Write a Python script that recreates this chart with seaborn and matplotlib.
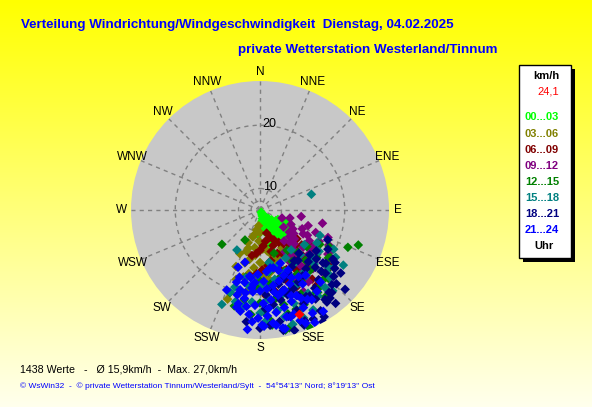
import numpy as np
import pandas as pd
import matplotlib
matplotlib.use("Agg")
import matplotlib.pyplot as plt
import matplotlib.patches as mpatches
import seaborn as sns

# Werte aus dem Bild geschaetzt: Richtung (Grad) und Geschwindigkeit (km/h) je Zeitblock
dir_00 = [150, 155, 160, 145, 140, 135, 130, 125, 120, 118, 165, 170, 175, 180, 185, 150, 145, 140,
          135, 128, 160, 155, 150, 142, 138, 132, 148, 152, 158, 162, 168, 172, 144, 136, 126,
          125, 130, 135, 140, 145, 150, 155, 160, 165, 120, 128, 138, 148, 158, 170,
          116, 122, 118, 124, 112]
spd_00 = [7.0, 7.3, 7.6, 7.8, 8.1, 8.5, 9.0, 9.6, 10.2, 11.0, 8.0, 8.4, 8.8, 9.4, 10.5, 9.5, 10.2, 10.8,
          11.4, 12.0, 9.8, 10.6, 11.3, 11.8, 12.3, 10.0, 8.8, 7.5, 10.9, 11.6, 10.1, 11.9, 9.2, 9.9, 11.3,
          11.5, 11.9, 12.2, 12.4, 12.0, 11.7, 11.9, 12.3, 12.1, 11.8, 10.7, 9.5, 8.3, 9.0, 12.6,
          12.0, 12.5, 9.8, 11.0, 11.3]

dir_03 = [185, 190, 195, 200, 198, 188, 182, 176, 170, 165, 192, 196, 203, 186, 180, 175, 168, 162,
          190, 194, 199, 184, 178, 172, 166, 160, 188, 194, 200, 192, 180, 170, 205, 197, 186,
          150, 155, 160, 165, 170, 175, 180, 185]
spd_03 = [9.1, 9.8, 11.0, 12.1, 13.5, 12.6, 11.5, 12.8, 13.2, 14.0, 14.6, 15.3, 16.3, 15.8, 14.9, 15.6, 16.2, 15.0,
          16.8, 17.5, 18.2, 17.1, 16.6, 17.8, 18.4, 17.2, 19.3, 20.1, 21.6, 10.5, 10.2, 11.7, 14.2, 12.9, 13.8,
          13.5, 14.2, 15.0, 15.8, 16.5, 17.3, 18.0, 18.8]

dir_06 = [164, 160, 155, 150, 145, 140, 135, 130, 170, 175, 180, 185, 190, 165, 158, 152, 147, 142, 137, 132,
          168, 172, 178, 183, 188, 162, 156, 149, 144, 139, 166, 159, 153, 148, 143, 170, 176, 129, 160, 150,
          125, 130, 135, 140, 145, 150, 155, 160, 128, 138, 148, 158, 133, 143, 153]
spd_06 = [10.4, 11.2, 11.8, 12.5, 13.1, 13.8, 14.5, 15.2, 11.6, 12.3, 13.0, 13.5, 13.9, 13.4, 14.0, 14.7, 15.3, 15.9, 16.6, 17.4,
          14.8, 15.5, 16.1, 16.7, 17.2, 16.3, 16.9, 17.6, 18.2, 18.9, 18.0, 18.7, 19.3, 19.9, 20.3, 19.5, 20.2, 20.9, 12.6, 16.0,
          16.5, 17.2, 17.9, 18.5, 19.0, 19.6, 20.1, 20.6, 14.0, 15.0, 16.0, 17.0, 21.0, 21.5, 22.0]

dir_09 = [99, 102, 112, 110, 105, 115, 120, 125, 130, 135, 140, 145, 150, 108, 118, 122, 128, 133, 138, 143,
          148, 153, 114, 119, 124, 129, 134, 139, 144, 149, 117, 123, 127, 132, 137, 142, 112, 126, 131, 136,
          120, 125, 130, 135, 140, 118, 128, 138, 146, 152]
spd_09 = [13.2, 16.7, 18.2, 10.3, 11.5, 12.0, 12.6, 13.1, 13.7, 14.2, 14.8, 15.4, 16.0, 14.6, 15.1, 15.8, 16.4, 17.0, 17.6, 18.1,
          18.6, 19.0, 13.9, 14.4, 16.9, 17.5, 18.4, 16.2, 17.3, 14.3, 18.8, 19.4, 12.4, 12.9, 13.5, 12.8, 16.1, 11.2, 15.6, 17.9,
          19.5, 20.0, 20.4, 20.8, 21.1, 17.2, 18.0, 19.1, 20.3, 21.2]

dir_12 = [228, 109.6, 113, 206.6, 168, 157, 120, 130, 140, 150, 160, 170, 180, 190, 200, 135, 145, 155, 165, 175,
          185, 195, 125, 138, 148, 158, 163, 172, 182, 192, 152, 160, 166, 174, 143, 178, 154, 162, 170, 146,
          118, 124, 130, 136, 142, 148, 154, 160, 166, 128, 138, 150, 156, 172, 180]
spd_12 = [14.7, 23.1, 21.7, 11.9, 26.0, 26.9, 17.5, 18.3, 19.0, 19.6, 20.2, 20.8, 21.3, 21.0, 20.5, 21.9, 22.5, 23.1, 23.6, 24.0,
          23.2, 22.3, 19.8, 15.6, 16.2, 17.0, 17.7, 18.4, 18.9, 17.5, 24.6, 25.3, 25.8, 24.9, 23.8, 22.7, 21.4, 13.8, 15.1, 14.3,
          19.0, 20.0, 20.8, 21.5, 22.0, 22.5, 22.8, 23.3, 22.0, 16.0, 17.3, 18.3, 19.4, 16.5, 17.8]

dir_15 = [73, 210, 202, 123.5, 113, 125, 135, 145, 155, 165, 175, 185, 195, 130, 140, 150, 160, 170, 180, 190,
          200, 128, 138, 148, 158, 168, 178, 188, 198, 142, 152, 162, 172, 182, 147, 157, 167, 177, 133, 192,
          118, 122, 128, 134, 140, 146, 152, 158, 164, 132, 144, 156, 120, 170, 138]
spd_15 = [15.1, 13.9, 22.7, 22.4, 16.9, 18.0, 18.7, 19.3, 19.9, 20.4, 20.8, 21.2, 21.6, 20.6, 21.2, 21.8, 22.3, 22.7, 22.9, 22.2,
          20.4, 15.5, 16.1, 16.7, 17.2, 17.8, 18.3, 18.8, 19.4, 14.6, 15.2, 15.8, 16.4, 16.9, 23.0, 23.5, 23.9, 24.2, 21.3, 17.6,
          19.8, 20.7, 21.4, 22.0, 22.6, 23.0, 24.5, 25.0, 25.4, 17.8, 18.6, 19.8, 17.0, 15.0, 23.8]

dir_18 = [125, 141.5, 150.6, 187, 113.8, 130, 135, 140, 145, 150, 155, 160, 165, 170, 175, 180, 132, 137, 142, 147,
          152, 157, 162, 167, 172, 177, 128, 134, 139, 144, 149, 154, 159, 164, 169, 146, 151, 156, 161, 166,
          138, 143, 171, 176, 158,
          120, 124, 128, 132, 136, 140, 144, 148, 152, 156, 160, 164, 133, 141, 149,
          126, 131, 136, 129, 134]
spd_18 = [21.1, 24.4, 26.9, 24.4, 18.3, 19.6, 20.3, 21.0, 21.7, 22.3, 22.9, 23.5, 24.0, 24.5, 24.9, 25.3, 17.2, 17.8, 18.4, 19.0,
          19.5, 20.1, 20.7, 21.2, 21.7, 22.2, 22.8, 23.4, 23.9, 24.6, 25.2, 25.8, 26.1, 26.4, 26.0, 16.3, 16.9, 17.5, 18.1, 18.7,
          15.8, 16.6, 19.4, 20.0, 25.5,
          19.0, 20.5, 21.6, 22.3, 23.0, 23.6, 24.1, 23.2, 22.1, 21.4, 20.6, 19.8, 25.0, 25.6, 26.3,
          17.6, 18.4, 19.2, 20.0, 21.0]

dir_21 = [202.6, 193.5, 201, 196, 173.4, 169, 154, 162, 155, 160, 165, 170, 175, 180, 185, 190, 195, 158, 163, 168,
          173, 178, 183, 188, 193, 198, 157, 161, 166, 171, 176, 181, 186, 191, 152, 156, 164, 172, 179, 184,
          150, 159, 167, 174, 182, 189, 197, 170, 163, 177, 185, 160, 153, 166, 175,
          140, 145, 150, 155, 160, 165, 170, 145, 150, 155, 148, 158, 168, 178, 186,
          188, 192, 186, 194, 190, 184]
spd_21 = [20.3, 22.4, 16.3, 15.2, 24.6, 25.6, 26.4, 23.9, 17.1, 17.6, 18.2, 18.7, 19.1, 19.4, 19.6, 19.9, 20.5, 19.2, 19.8, 20.4,
          20.9, 21.4, 21.7, 22.0, 21.8, 18.6, 21.3, 21.9, 22.5, 23.0, 23.4, 23.7, 23.2, 22.9, 22.6, 23.5, 24.2, 25.0, 24.8, 24.3,
          20.1, 15.6, 16.0, 16.4, 16.8, 17.2, 17.7, 15.9, 16.6, 17.9, 18.4, 25.2, 24.9, 24.0, 22.2,
          21.5, 22.3, 23.0, 22.0, 21.0, 20.0, 19.8, 19.2, 18.8, 18.4, 25.5, 25.9, 25.8, 25.0, 25.6,
          17.4, 18.3, 19.0, 19.6, 20.8, 18.1]

# letzter Wert (rot)
last_dir = 159.6
last_spd = 24.1

groups = ["00...03", "03...06", "06...09", "09...12", "12...15", "15...18", "18...21", "21...24"]
group_colors = ["#00ff00", "#808000", "#800000", "#800080", "#008000", "#008080", "#000080", "#0000ff"]
directions = ["N", "NNE", "NE", "ENE", "E", "ESE", "SE", "SSE",
              "S", "SSW", "SW", "WSW", "W", "WNW", "NW", "NNW"]
ring_ticks = [8, 10, 20]
ring_labels = ["10", "20"]
ring_label_pos = [10, 20]
r_min = 6.6
r_max = 27.0

all_dirs = [dir_00, dir_03, dir_06, dir_09, dir_12, dir_15, dir_18, dir_21]
all_spds = [spd_00, spd_03, spd_06, spd_09, spd_12, spd_15, spd_18, spd_21]
frames = []
for g, d, s in zip(groups, all_dirs, all_spds):
    frames.append(pd.DataFrame({"dir": d, "spd": s, "Uhr": g}))
df = pd.concat(frames, ignore_index=True)
df["theta"] = np.deg2rad(df["dir"])

W, H = 592, 407
fig = plt.figure(figsize=(W / 100, H / 100), dpi=100)
plt.rcParams["font.family"] = ["Liberation Sans", "DejaVu Sans"]

# Hintergrund: gelber Verlauf
bg = fig.add_axes([0, 0, 1, 1], zorder=0)
grad = np.linspace(0, 1, 256)
col = np.ones((256, 1, 3))
col[:, 0, 2] = grad * 0.93
bg.imshow(col, aspect="auto", extent=[0, 1, 0, 1], origin="upper")
bg.set_axis_off()

# Polardiagramm
ax = fig.add_axes([131 / W, 1 - 339 / H, 258 / W, 258 / H], projection="polar", zorder=1)
ax.set_facecolor("#c8c8c8")
ax.set_theta_zero_location("N")
ax.set_theta_direction(-1)
ax.set_ylim(r_min, r_max)
ax.spines["polar"].set_visible(False)

sns.scatterplot(data=df, x="theta", y="spd", hue="Uhr", hue_order=groups, palette=group_colors,
                marker="D", s=24, linewidth=0, legend=False, ax=ax, zorder=3)
ax.scatter(np.deg2rad(last_dir), last_spd, marker="D", s=26, color="#ff0000", linewidth=0, zorder=4)

ax.set_xticks(np.deg2rad(np.arange(0, 360, 22.5)))
ax.set_xticklabels(directions, fontsize=8.5)
ax.tick_params(axis="x", pad=-4)
ax.set_yticks(ring_ticks)
ax.set_yticklabels([])
ax.grid(True, color="#808080", linestyle=(0, (3, 3)), linewidth=1)
ax.set_xlabel("")
ax.set_ylabel("")
for lab, rv in zip(ring_labels, ring_label_pos):
    ax.annotate(lab, xy=(0, rv), xytext=(2, 1), textcoords="offset points",
                ha="left", va="center", fontsize=9, zorder=5)

# Titel
fig.text(21 / W, 1 - 25 / H, "Verteilung Windrichtung/Windgeschwindigkeit  Dienstag, 04.02.2025",
         color="#0000ff", fontsize=9.6, fontweight="bold", va="center", ha="left")
fig.text(238 / W, 1 - 50 / H, "private Wetterstation Westerland/Tinnum",
         color="#0000ff", fontsize=9.6, fontweight="bold", va="center", ha="left")

# Legende mit Schatten
fig.patches.append(mpatches.Rectangle((523 / W, 1 - 262 / H), 52 / W, 193 / H, transform=fig.transFigure,
                                      facecolor="black", edgecolor="none", zorder=2))
fig.patches.append(mpatches.Rectangle((519 / W, 1 - 258 / H), 52 / W, 193 / H, transform=fig.transFigure,
                                      facecolor="white", edgecolor="black", linewidth=1, zorder=3))
fig.text(546 / W, 1 - 76 / H, "km/h", ha="center", va="center", fontsize=8, fontweight="bold", zorder=4)
fig.text(559 / W, 1 - 92 / H, "24,1", ha="right", va="center", fontsize=8, color="#ff0000", zorder=4)
leg_y = [117, 134, 150, 166, 182, 198, 214, 230]
for g, c, y in zip(groups, group_colors, leg_y):
    fig.text(542 / W, 1 - y / H, g, ha="center", va="center", fontsize=8, fontweight="bold", color=c, zorder=4)
fig.text(544 / W, 1 - 246 / H, "Uhr", ha="center", va="center", fontsize=8, fontweight="bold", zorder=4)

# Fusszeilen
fig.text(20 / W, 1 - 369 / H, "1438 Werte   -   \u00d8 15,9km/h  -  Max. 27,0km/h",
         ha="left", va="center", fontsize=7.7, color="black")
fig.text(20 / W, 1 - 386 / H,
         "\u00a9 WsWin32  -  \u00a9 private Wetterstation Tinnum/Westerland/Sylt  -  54\u00b054'13'' Nord; 8\u00b019'13'' Ost",
         ha="left", va="center", fontsize=6.05, color="#0000ff")

fig.savefig("out.png", dpi=100)
